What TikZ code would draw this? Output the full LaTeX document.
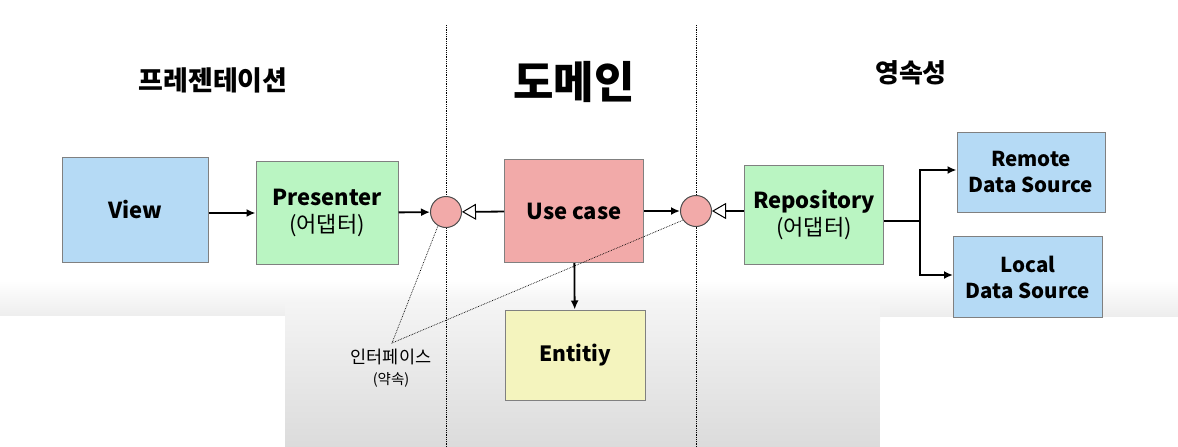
\documentclass[tikz,border=0pt]{standalone}
\usepackage{fontspec}
\setmainfont{Noto Sans CJK KR}
\usetikzlibrary{arrows.meta,positioning}

\definecolor{viewblue}{HTML}{B5DAF5}
\definecolor{adaptgreen}{HTML}{BAF5C2}
\definecolor{casered}{HTML}{F2AAA9}
\definecolor{entyellow}{HTML}{F4F4BE}

\begin{document}
\begin{tikzpicture}[x=1pt,y=-1pt]
\tikzstyle{block} = [rectangle, draw=black!50, line width=1pt, align=center,
inner sep=0pt, font=\fontsize{22}{27}\selectfont\bfseries]
\tikzstyle{port} = [circle, draw=black!70, line width=1pt, fill=casered,
minimum size=31pt, inner sep=0pt]
\tikzstyle{line} = [draw, line width=1.8pt, -{Latex[length=9pt,width=8pt]}];
\tikzstyle{impl} = [draw, line width=1.8pt, -{Triangle[open,length=14pt,width=16pt,line width=1pt]}];
\tikzstyle{sep} = [draw, densely dotted, line width=0.8pt];

\useasboundingbox (0,0) rectangle (1178,447);
% background of the video frame
\shade[top color=white, bottom color=black!7] (0,280) rectangle (1178,316);
\shade[top color=black!4, bottom color=black!14] (285,300) rectangle (880,447);
\fill[white] (0,316) rectangle (285,447);
\fill[white] (880,322) rectangle (1178,447);

% layer borders
\path[sep] (446,25) -- (446,447);
\path[sep] (696,25) -- (696,447);

% titles
\node[font=\fontsize{27}{30}\selectfont\bfseries] (tpres) at (213,80) {프레젠테이션};
\node[font=\fontsize{44}{48}\selectfont\bfseries] (tdom) at (574,82) {도메인};
\node[font=\fontsize{26}{30}\selectfont\bfseries] (tpers) at (911,73) {영속성};

% boxes
\node [block, fill=viewblue, minimum width=146pt, minimum height=105pt] (view) at (135,210) {View};
\node [block, fill=adaptgreen, minimum width=142pt, minimum height=103pt] (presenter) at (327,213) {Presenter\\\mdseries(어댑터)};
\node [port] (ifcleft) at (446,212) {};
\node [block, fill=casered, minimum width=139pt, minimum height=103pt] (usecase) at (574,211) {Use case};
\node [port] (ifcright) at (696,211) {};
\node [block, fill=adaptgreen, minimum width=139pt, minimum height=99pt] (repo) at (814,215) {Repository\\\mdseries(어댑터)};
\node [block, fill=viewblue, minimum width=148pt, minimum height=80pt, font=\fontsize{20.5}{26}\selectfont\bfseries] (remote) at (1031,172) {Remote\\Data Source};
\node [block, fill=viewblue, minimum width=149pt, minimum height=81pt, font=\fontsize{20.5}{26}\selectfont\bfseries] (local) at (1028,277) {Local\\Data Source};
\node [block, fill=entyellow, minimum width=140pt, minimum height=90pt, font=\fontsize{21}{25}\selectfont\bfseries] (entity) at (575,355) {Entitiy};

% interface note
\coordinate (ifctip) at (392,343);
\node[align=center, font=\fontsize{17.5}{21}\selectfont] (iface) at (391,368) {인터페이스\\{\fontsize{14.5}{16}\selectfont(약속)}};
\draw[densely dotted, line width=0.7pt] (ifcleft.240) -- (ifctip) -- (ifcright.215);

% connectors
\path[line] (view.east |- presenter) -- (presenter.west);
\path[line] (presenter) -- (ifcleft);
\path[impl] (usecase) -- (ifcleft);
\path[line] (usecase) -- (ifcright);
\path[impl] (repo.west |- ifcright) -- (ifcright);
\path[line] (usecase) -- (entity);
\coordinate (fork) at (920,221);
\draw[line width=1.8pt] (repo.east |- fork) -- (fork);
\path[line] (fork) |- (remote.west |- 0,170);
\path[line] (fork) |- (local.west |- 0,275);
\end{tikzpicture}
\end{document}
